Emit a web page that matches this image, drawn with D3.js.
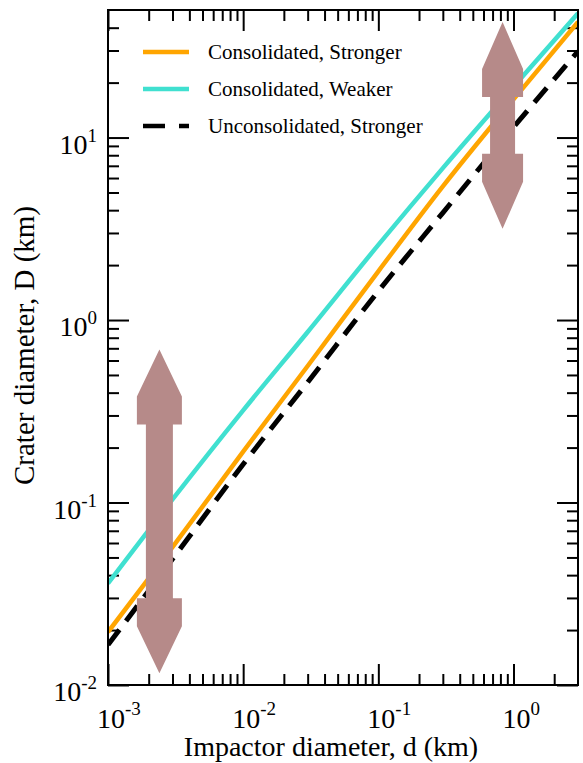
<!DOCTYPE html>
<meta charset="utf-8">
<html>
  <head>
    <title>Crater vs impactor diameter</title>
    <style>
      body { margin: 0; background: #fff; font-family: "Liberation Serif", "Times New Roman", serif; }
    </style>
  </head>
  <body>
    <div id="chart"></div>
    <script src="https://d3js.org/d3.v7.min.js"></script>
    <script>

      // data (km)
      const impactor = [0.001, 0.003, 0.01, 0.03, 0.1, 0.3, 1, 3];
      const consStronger = [0.0195, 0.057, 0.19, 0.56, 1.85, 5.4, 16.2, 43];
      const consWeaker = [0.036, 0.104, 0.32, 0.86, 2.58, 6.8, 19, 48];
      const unconsStronger = [0.0166, 0.049, 0.162, 0.456, 1.44, 3.87, 11.4, 29.7];
      const seriesNames = ["Consolidated, Stronger", "Consolidated, Weaker", "Unconsolidated, Stronger"];

      // tick exponents
      const xTickExp = [-3, -2, -1, 0];
      const yTickExp = [-2, -1, 0, 1];

      // uncertainty arrows (x position, top tip, bottom tip)
      const arrowX = [0.0024, 0.83];
      const arrowTop = [0.69, 43];
      const arrowBottom = [0.0116, 3.16];

      const W = 583, H = 763;
      const margin = {top: 10, right: 5, bottom: 78, left: 108},
            width = W - margin.left - margin.right,
            height = H - margin.top - margin.bottom;

      const svg = d3.select("#chart")
        .append("svg")
          .attr("width", W)
          .attr("height", H)
        .append("g")
          .attr("transform", `translate(${margin.left}, ${margin.top})`);

      const x = d3.scaleLog().domain([1e-3, 3]).range([0, width]);
      const y = d3.scaleLog().domain([1e-2, 50]).range([height, 0]);

      // ticks: majors at decades, minors 2..9
      const xMajor = xTickExp.map(e => Math.pow(10, e));
      const yMajor = yTickExp.map(e => Math.pow(10, e));
      function minors(scale) {
        const [a, b] = scale.domain();
        const out = [];
        for (let e = Math.floor(Math.log10(a)); e <= Math.ceil(Math.log10(b)); e++) {
          for (let m = 2; m <= 9; m++) {
            const v = m * Math.pow(10, e);
            if (v > a && v < b) out.push(v);
          }
        }
        return out;
      }
      const xMinor = minors(x), yMinor = minors(y);

      function drawAxis(gen, vals, size, transform) {
        svg.append("g")
          .attr("transform", transform)
          .call(gen.tickValues(vals).tickSizeInner(size).tickSizeOuter(0).tickFormat(""))
          .call(g => g.select(".domain").remove())
          .call(g => g.selectAll("line").attr("stroke", "#000").attr("stroke-width", 2));
      }
      const majorLen = 21, minorLen = 11;
      drawAxis(d3.axisBottom(x), xMajor, -majorLen, `translate(0, ${height})`);
      drawAxis(d3.axisBottom(x), xMinor, -minorLen, `translate(0, ${height})`);
      drawAxis(d3.axisTop(x), xMajor, -majorLen, `translate(0, 0)`);
      drawAxis(d3.axisTop(x), xMinor, -minorLen, `translate(0, 0)`);
      drawAxis(d3.axisLeft(y), yMajor, -majorLen, `translate(0, 0)`);
      drawAxis(d3.axisLeft(y), yMinor, -minorLen, `translate(0, 0)`);
      drawAxis(d3.axisRight(y), yMajor, -majorLen, `translate(${width}, 0)`);
      drawAxis(d3.axisRight(y), yMinor, -minorLen, `translate(${width}, 0)`);

      // series lines
      const line = d3.line()
        .x(d => x(d[0]))
        .y(d => y(d[1]))
        .curve(d3.curveMonotoneX);

      const series = [
        {name: seriesNames[0], values: consStronger, color: "#ffa500", dash: null, w: 4.5},
        {name: seriesNames[1], values: consWeaker, color: "#40e0d0", dash: null, w: 4.5},
        {name: seriesNames[2], values: unconsStronger, color: "#000000", dash: "19,11", w: 5}
      ];

      svg.append("clipPath").attr("id", "clip")
        .append("rect").attr("width", width).attr("height", height);

      svg.append("g").attr("clip-path", "url(#clip)")
        .selectAll("path")
        .data(series)
        .join("path")
          .attr("fill", "none")
          .attr("stroke", d => d.color)
          .attr("stroke-width", d => d.w)
          .attr("stroke-dasharray", d => d.dash)
          .attr("d", d => line(impactor.map((v, i) => [v, d.values[i]])));

      // double arrows
      const headW = [45, 41], shaftW = [27, 25], taper = 47, block = 28;
      arrowX.forEach((ax, i) => {
        const cx = x(ax), t = y(arrowTop[i]), b = y(arrowBottom[i]);
        const hw = headW[i] / 2, sw = shaftW[i] / 2;
        const pts = [
          [cx, t], [cx + hw, t + taper], [cx + hw, t + taper + block], [cx + sw, t + taper + block],
          [cx + sw, b - taper - block], [cx + hw, b - taper - block], [cx + hw, b - taper], [cx, b],
          [cx - hw, b - taper], [cx - hw, b - taper - block], [cx - sw, b - taper - block],
          [cx - sw, t + taper + block], [cx - hw, t + taper + block], [cx - hw, t + taper]
        ];
        svg.append("path")
          .attr("d", "M" + pts.map(p => p.join(",")).join("L") + "Z")
          .attr("fill", "#b68a89");
      });

      // frame
      svg.append("rect")
        .attr("width", width)
        .attr("height", height)
        .attr("fill", "none")
        .attr("stroke", "#000")
        .attr("stroke-width", 2);

      // tick labels
      xTickExp.forEach(e => {
        const t = svg.append("text")
          .attr("x", x(Math.pow(10, e)) - 11)
          .attr("y", height + 43)
          .attr("font-size", "28px");
        t.append("tspan").text("10");
        t.append("tspan").attr("dy", -13).attr("font-size", "19px").text(e);
      });
      yTickExp.forEach(e => {
        const t = svg.append("text")
          .attr("x", -11)
          .attr("y", y(Math.pow(10, e)) + 16)
          .attr("text-anchor", "end")
          .attr("font-size", "28px");
        t.append("tspan").text("10");
        t.append("tspan").attr("dy", -12).attr("font-size", "19px").text(e);
      });

      // axis titles
      svg.append("text")
        .attr("x", width / 2 - 12)
        .attr("y", height + 71)
        .attr("text-anchor", "middle")
        .attr("font-size", "28px")
        .text("Impactor diameter, d (km)");

      svg.append("text")
        .attr("transform", `translate(-74, ${height / 2 - 2}) rotate(-90)`)
        .attr("text-anchor", "middle")
        .attr("font-size", "29px")
        .text("Crater diameter, D (km)");

      // legend
      const legend = svg.append("g").attr("transform", "translate(35, 42)");
      series.forEach((s, i) => {
        legend.append("line")
          .attr("x1", 0).attr("x2", 46)
          .attr("y1", i * 37).attr("y2", i * 37)
          .attr("stroke", s.color)
          .attr("stroke-width", 4.5)
          .attr("stroke-dasharray", s.dash ? "22,14" : null);
        legend.append("text")
          .attr("x", 65)
          .attr("y", i * 37 + 7)
          .attr("font-size", "21px")
          .text(s.name);
      });
    </script>
  </body>
</html>
